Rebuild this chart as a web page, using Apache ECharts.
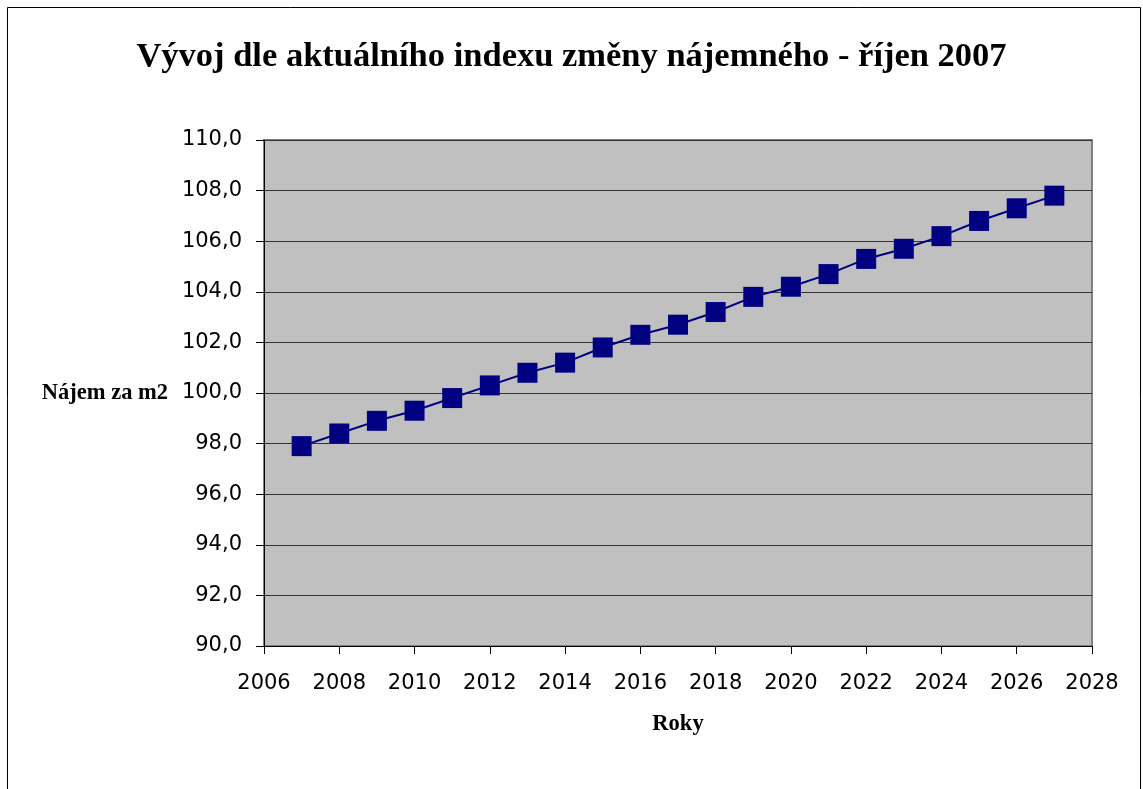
<!DOCTYPE html>
<html>
<head>
<meta charset="utf-8">
<script src="https://cdn.jsdelivr.net/npm/echarts@6/dist/echarts.min.js"></script>
<style>
html,body{margin:0;padding:0;background:#fff;}
#main{width:1143px;height:789px;}
</style>
</head>
<body>
<div id="main"></div>
<script>
const titleText = 'Vývoj dle aktuálního indexu změny nájemného - říjen 2007';
const yAxisName = 'Nájem za m2';
const xAxisName = 'Roky';
const years = [2007,2008,2009,2010,2011,2012,2013,2014,2015,2016,2017,2018,2019,2020,2021,2022,2023,2024,2025,2026,2027];
const rent = [97.9,98.4,98.9,99.3,99.8,100.3,100.8,101.2,101.8,102.3,102.7,103.2,103.8,104.2,104.7,105.3,105.7,106.2,106.8,107.3,107.8];
const xMin = 2006, xMax = 2028, xStep = 2;
const yMin = 90, yMax = 110, yStep = 2;

const chart = echarts.init(document.getElementById('main'));
const points = years.map((y, i) => [y, rent[i]]);
chart.setOption({
  animation: false,
  backgroundColor: '#ffffff',
  title: {
    text: titleText,
    left: 'center',
    top: 35,
    textStyle: {fontFamily: 'Liberation Serif', fontWeight: 'bold', fontSize: 34.5, color: '#000'}
  },
  graphic: [{
    type: 'rect',
    shape: {x: 7.5, y: 7.5, width: 1133, height: 800},
    style: {fill: 'none', stroke: '#000', lineWidth: 1},
    silent: true, z: -1
  }],
  grid: {
    left: 264, right: 51, top: 140, bottom: 143,
    show: true, backgroundColor: '#C0C0C0', borderColor: '#808080', borderWidth: 2
  },
  xAxis: {
    type: 'value', min: xMin, max: xMax, interval: xStep,
    name: xAxisName, nameLocation: 'middle', nameGap: 67,
    nameTextStyle: {fontFamily: 'Liberation Serif', fontWeight: 'bold', fontSize: 22.5, color: '#000'},
    axisLine: {show: true, onZero: false, lineStyle: {color: '#000', width: 1}},
    axisTick: {show: true, length: 8, lineStyle: {color: '#000'}},
    axisLabel: {fontFamily: 'DejaVu Sans', fontSize: 21, color: '#000', margin: 27,
      formatter: v => String(v)},
    splitLine: {show: false}
  },
  yAxis: {
    type: 'value', min: yMin, max: yMax, interval: yStep,
    name: yAxisName, nameLocation: 'middle', nameRotate: 0, nameGap: 96,
    nameTextStyle: {fontFamily: 'Liberation Serif', fontWeight: 'bold', fontSize: 22.5, color: '#000', align: 'right'},
    axisLine: {show: true, lineStyle: {color: '#000', width: 1}},
    axisTick: {show: true, length: 8, lineStyle: {color: '#000'}},
    axisLabel: {fontFamily: 'DejaVu Sans', fontSize: 21, color: '#000', margin: 22,
      formatter: v => v.toFixed(1).replace('.', ',')},
    splitLine: {show: true, lineStyle: {color: '#333', width: 1}}
  },
  series: [{
    type: 'line',
    data: points,
    symbol: 'rect',
    symbolSize: 20,
    lineStyle: {color: '#000080', width: 2},
    itemStyle: {color: '#000080'}
  }]
});
</script>
</body>
</html>
